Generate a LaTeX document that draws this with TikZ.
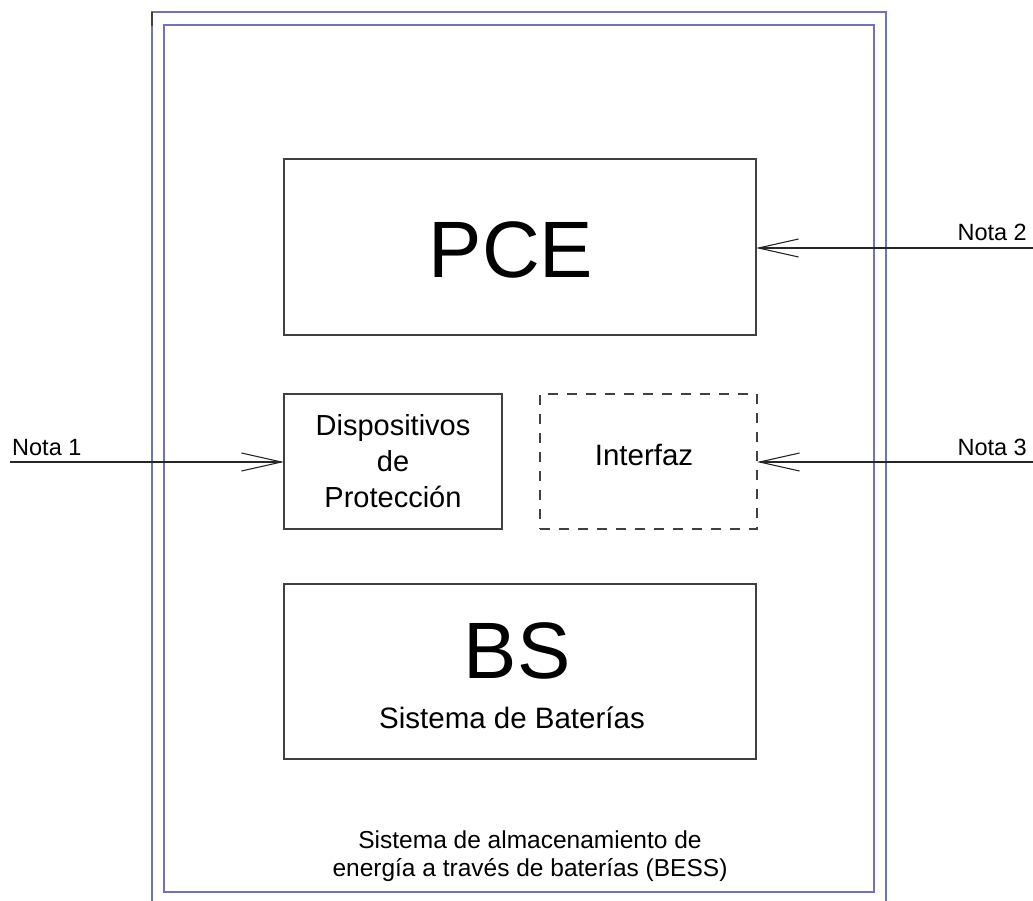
\documentclass[tikz,border=0pt]{standalone}
\usepackage{fontspec}
\setmainfont{Liberation Sans}
\usetikzlibrary{arrows.meta}
\definecolor{frameblue}{RGB}{112,112,192}
\definecolor{boxgray}{RGB}{64,64,64}
\tikzset{
  x=1pt, y=-1pt,
  frame/.style={draw=frameblue, line width=1.6pt},
  box/.style={draw=boxgray, line width=1.4pt, inner sep=0pt, outer sep=0pt},
  dashbox/.style={box, dash pattern=on 10pt off 9pt},
  conn/.style={draw=black!85, line width=1.1pt, -{Straight Barb[length=40pt,width=18pt,line width=1.1pt]}},
  notelabel/.style={font=\fontsize{23.5}{27}\selectfont, inner sep=0pt},
}
\begin{document}
\begin{tikzpicture}
\useasboundingbox (0,0) rectangle (1033,901);
% frames
\draw[frame] (152,901) -- (152,12) -- (886,12) -- (886,901);
\draw[frame] (164,25) rectangle (874,892);
\draw[boxgray, line width=1.6pt] (152,12) -- (152,26);
% boxes
\node (pce) [box, minimum width=472pt, minimum height=176pt] at (520,247) {};
\node (pcelabel) [inner sep=0pt, anchor=base, font=\fontsize{80}{96}\selectfont] at (511,277) {PCE};
\node (disp) [box, minimum width=218pt, minimum height=135pt, align=center,
  font=\fontsize{29}{36}\selectfont] at (393,461.5) {Dispositivos\\de\\Protección};
\node (intf) [dashbox, minimum width=217pt, minimum height=135pt] at (648.5,461.5) {};
\node (intflabel) [inner sep=0pt, anchor=base, font=\fontsize{29.5}{34}\selectfont] at (644,465) {Interfaz};
\node (bs) [box, minimum width=472pt, minimum height=175pt] at (520,671.5) {};
\node (bslabel) [inner sep=0pt, anchor=base, font=\fontsize{80}{96}\selectfont] at (517,678) {BS};
\node (bssub) [inner sep=0pt, anchor=base, font=\fontsize{29.5}{34}\selectfont] at (512,728) {Sistema de Baterías};
\node (bess) [inner sep=0pt, align=center, anchor=base,
  font=\fontsize{24.5}{28}\selectfont] at (530,876) {Sistema de almacenamiento de\\energía a través de baterías (BESS)};
% notes
\coordinate (n1) at (10,462);
\coordinate (n2) at (1033,248);
\coordinate (n3) at (1033,462);
\node (n1lab) [notelabel, anchor=base west] at (12,455) {Nota 1};
\node (n2lab) [notelabel, anchor=base east] at (1027,241) {Nota 2};
\node (n3lab) [notelabel, anchor=base east] at (1027,455) {Nota 3};
\draw[conn] (n1) -- (n1 -| disp.west);
\draw[conn] (n2) -- (n2 -| pce.east);
\draw[conn] (n3) -- (n3 -| intf.east);
\end{tikzpicture}
\end{document}
